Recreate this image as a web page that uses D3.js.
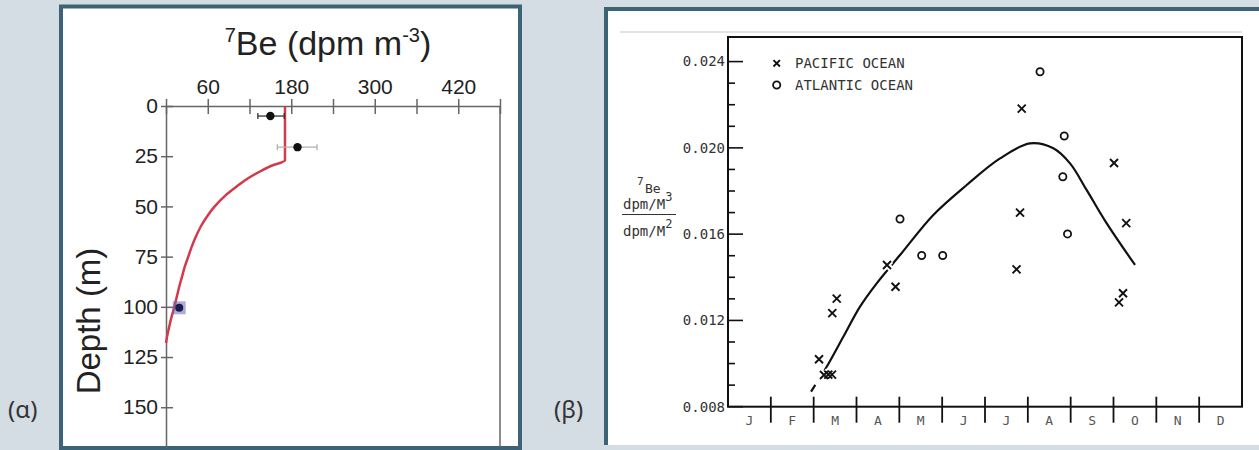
<!DOCTYPE html>
<html>
<head>
<meta charset="utf-8">
<script src="https://cdn.jsdelivr.net/npm/d3@7"></script>
<style>
html, body { margin: 0; padding: 0; background: #d4dde3; }
svg { display: block; }
</style>
</head>
<body>
<svg id="chart" width="1259" height="450"></svg>
<script>
// ---- panel (a): 7Be depth profile ----
const depthTicks = [0, 25, 50, 75, 100, 125, 150];
const beTicks = [0, 60, 120, 180, 240, 300, 360, 420, 480];
const beTickLabels = [60, 180, 300, 420];
const obsBe = [150, 189];
const obsDepth = [5, 20.5];
const obsErrLo = [132, 160];
const obsErrHi = [170, 217];
const deepBe = [19];
const deepDepth = [100.5];
const modelBe = [171, 171, 150, 133, 118, 102, 84, 70, 59, 50, 43, 37, 32, 27, 23, 19, 15.5, 12, 8, 4.5, 2, 0];
const modelDepth = [0, 27, 30, 33, 36, 40, 45, 50, 55, 60, 65, 70, 75, 80, 85, 90, 95, 100, 105, 110, 114, 118];

// ---- panel (b): 7Be ratio through the year ----
const months = ["J", "F", "M", "A", "M", "J", "J", "A", "S", "O", "N", "D"];
const ratioMajor = [0.008, 0.012, 0.016, 0.020, 0.024];
const ratioMinor = [0.009, 0.010, 0.011, 0.013, 0.014, 0.015, 0.017, 0.018, 0.019, 0.021, 0.022, 0.023];
const pacificMonth = [2.125, 2.241, 2.342, 2.428, 2.435, 2.538, 3.712, 3.911, 6.857, 6.818, 6.736, 9.012, 9.297, 9.222, 9.129];
const pacificRatio = [0.0102, 0.00947, 0.00949, 0.00949, 0.01234, 0.01301, 0.01457, 0.01356, 0.02182, 0.0170, 0.01437, 0.0193, 0.01651, 0.01326, 0.01284];
const atlanticMonth = [4.016, 4.522, 5.013, 7.285, 7.85, 7.817, 7.927];
const atlanticRatio = [0.0167, 0.01501, 0.01501, 0.02353, 0.02055, 0.01866, 0.01601];
const fitMonth = [1.938, 2.304, 2.692, 3.082, 3.472, 4.016, 4.793, 5.573, 6.351, 7.051, 7.595, 7.985, 8.375, 8.842, 9.503];
const fitRatio = [0.0087, 0.00985, 0.01124, 0.01264, 0.01372, 0.01503, 0.01689, 0.01828, 0.01951, 0.02021, 0.01998, 0.01928, 0.01804, 0.0165, 0.01457];

const svg = d3.select("#chart");
const frameColor = "#3d6377";
const sans = "Liberation Sans, Arial, sans-serif";
const mono = "DejaVu Sans Mono, monospace";

// panel frames
svg.append("rect")
    .attr("x", 61).attr("y", 6.5).attr("width", 459).attr("height", 441.5)
    .attr("fill", "#fff").attr("stroke", frameColor).attr("stroke-width", 4);
svg.append("rect")
    .attr("x", 606).attr("y", 9).attr("width", 660).attr("height", 436)
    .attr("fill", "#fff");
svg.append("path")
    .attr("d", "M606,445V9H1262")
    .attr("fill", "none").attr("stroke", frameColor).attr("stroke-width", 4);

// panel letters
svg.append("text").attr("x", 8).attr("y", 418)
    .attr("font-family", "Noto Sans, sans-serif").attr("font-size", 24).attr("fill", "#333")
    .text("(α)");
svg.append("text").attr("x", 554).attr("y", 418)
    .attr("font-family", "Noto Sans, sans-serif").attr("font-size", 24).attr("fill", "#333")
    .text("(β)");

// ================= panel (a) =================
const xA = d3.scaleLinear().domain([0, 480]).range([166, 500]);
const yA = d3.scaleLinear().domain([0, 170]).range([106, 447.4]);
const gA = svg.append("g");

gA.append("g")
    .attr("transform", `translate(0,${yA(0)})`)
    .call(d3.axisTop(xA).tickValues(beTicks).tickSize(7).tickSizeOuter(0).tickPadding(5)
        .tickFormat(d => beTickLabels.includes(d) ? d : ""))
    .call(g => g.attr("font-family", sans).attr("font-size", 21))
    .call(g => g.select(".domain").attr("stroke", "#666").attr("stroke-width", 1.5))
    .call(g => g.selectAll(".tick line").attr("y1", 8).attr("stroke", "#666").attr("stroke-width", 1.5))
    .call(g => g.selectAll(".tick text").attr("fill", "#222"));

gA.append("g")
    .attr("transform", `translate(${xA(0)},0)`)
    .call(d3.axisLeft(yA).tickValues(depthTicks).tickSize(5).tickSizeOuter(0).tickPadding(3))
    .call(g => g.attr("font-family", sans).attr("font-size", 21))
    .call(g => g.select(".domain").attr("stroke", "#666").attr("stroke-width", 1.5))
    .call(g => g.selectAll(".tick line").attr("x1", 7).attr("stroke", "#666").attr("stroke-width", 1.5))
    .call(g => g.selectAll(".tick text").attr("fill", "#222"));

gA.append("line")
    .attr("x1", xA(480)).attr("x2", xA(480)).attr("y1", yA(0)).attr("y2", yA(170))
    .attr("stroke", "#666").attr("stroke-width", 1.5);

// model profile
const profile = modelBe.map((v, i) => ({ v, d: modelDepth[i] }));
gA.append("path")
    .datum(profile)
    .attr("d", d3.line().x(p => xA(p.v)).y(p => yA(p.d)).curve(d3.curveMonotoneY))
    .attr("fill", "none").attr("stroke", "#d23a4a").attr("stroke-width", 2.5);

// observations with error bars
const obs = obsBe.map((v, i) => ({ v, d: obsDepth[i], lo: obsErrLo[i], hi: obsErrHi[i], i }));
const errColor = i => i === 0 ? "#333" : "#b0b0b0";
const eb = gA.selectAll(".eb").data(obs).join("g").attr("class", "eb");
eb.append("line")
    .attr("x1", p => xA(p.lo)).attr("x2", p => xA(p.hi))
    .attr("y1", p => yA(p.d)).attr("y2", p => yA(p.d))
    .attr("stroke", p => errColor(p.i)).attr("stroke-width", 1.3);
eb.selectAll(".cap").data(p => [p.lo, p.hi].map(x => ({ x, d: p.d, i: p.i }))).join("line")
    .attr("x1", c => xA(c.x)).attr("x2", c => xA(c.x))
    .attr("y1", c => yA(c.d) - 3).attr("y2", c => yA(c.d) + 3)
    .attr("stroke", c => errColor(c.i)).attr("stroke-width", 1.3);
eb.append("circle")
    .attr("cx", p => xA(p.v)).attr("cy", p => yA(p.d)).attr("r", 4.2)
    .attr("fill", "#111");

// deep sample
const deep = deepBe.map((v, i) => ({ v, d: deepDepth[i] }));
gA.selectAll(".deepsq").data(deep).join("rect")
    .attr("x", p => xA(p.v) - 6.5).attr("y", p => yA(p.d) - 6.5)
    .attr("width", 13).attr("height", 13)
    .attr("fill", "#6a6ab8").attr("opacity", 0.55);
gA.selectAll(".deepdot").data(deep).join("circle")
    .attr("cx", p => xA(p.v)).attr("cy", p => yA(p.d)).attr("r", 4)
    .attr("fill", "#1b1b4d");

// titles
const title = gA.append("text")
    .attr("x", 328).attr("y", 55).attr("text-anchor", "middle")
    .attr("font-family", sans).attr("font-size", 34).attr("fill", "#222");
title.append("tspan").attr("font-size", 20).attr("dy", -13).text("7");
title.append("tspan").attr("dy", 13).text("Be (dpm m");
title.append("tspan").attr("font-size", 20).attr("dy", -13).text("-3");
title.append("tspan").attr("dy", 13).text(")");

gA.append("text")
    .attr("transform", "translate(100,321) rotate(-90)")
    .attr("text-anchor", "middle")
    .attr("font-family", sans).attr("font-size", 33).attr("fill", "#222")
    .text("Depth (m)");

// ================= panel (b) =================
const xB = d3.scaleLinear().domain([0, 12]).range([728, 1242]);
const yB = d3.scaleLinear().domain([0.008, 0.02514]).range([406.7, 37]);
const gB = svg.append("g");

// faint scan edge above the plot
gB.append("line")
    .attr("x1", 620).attr("x2", 1242).attr("y1", 32).attr("y2", 32)
    .attr("stroke", "#e3e3e3").attr("stroke-width", 2);

// minor and major ticks on the left axis, pointing inward
gB.selectAll(".minor").data(ratioMinor).join("line")
    .attr("x1", xB(0)).attr("x2", xB(0) + 7)
    .attr("y1", d => yB(d)).attr("y2", d => yB(d))
    .attr("stroke", "#111").attr("stroke-width", 1.6);
gB.selectAll(".major").data(ratioMajor).join("line")
    .attr("x1", xB(0)).attr("x2", xB(0) + 15)
    .attr("y1", d => yB(d)).attr("y2", d => yB(d))
    .attr("stroke", "#111").attr("stroke-width", 1.6);
gB.selectAll(".ylab").data(ratioMajor).join("text")
    .attr("x", xB(0) - 3).attr("y", d => yB(d)).attr("dy", "0.35em")
    .attr("text-anchor", "end")
    .attr("font-family", mono).attr("font-size", 14).attr("fill", "#333")
    .text(d => d3.format(".3f")(d));

// month dividers and labels
gB.selectAll(".mtick").data(d3.range(1, 12)).join("line")
    .attr("x1", d => xB(d)).attr("x2", d => xB(d))
    .attr("y1", yB(0.008) - 10).attr("y2", yB(0.008) + 16)
    .attr("stroke", "#111").attr("stroke-width", 1.8);
gB.selectAll(".mlab").data(months).join("text")
    .attr("x", (d, i) => xB(i + 0.5)).attr("y", 425)
    .attr("text-anchor", "middle")
    .attr("font-family", mono).attr("font-size", 13).attr("fill", "#555")
    .text(d => d);

// plot box
gB.append("rect")
    .attr("x", xB(0)).attr("y", yB(0.02514))
    .attr("width", xB(12) - xB(0)).attr("height", yB(0.008) - yB(0.02514))
    .attr("fill", "none").attr("stroke", "#111").attr("stroke-width", 2);

// fitted seasonal curve, dashed start
const fit = fitMonth.map((m, i) => ({ m, r: fitRatio[i] }));
const fitPath = gB.append("path")
    .datum(fit)
    .attr("d", d3.line().x(p => xB(p.m)).y(p => yB(p.r)).curve(d3.curveCatmullRom.alpha(0.5)))
    .attr("fill", "none").attr("stroke", "#111").attr("stroke-width", 2.2);
const fitLen = fitPath.node().getTotalLength();
fitPath.attr("stroke-dasharray", `8,15,${fitLen}`);

// symbols
const timesSymbol = {
    draw(ctx, size) {
        const r = Math.sqrt(size) / 2;
        ctx.moveTo(-r, -r); ctx.lineTo(r, r);
        ctx.moveTo(-r, r); ctx.lineTo(r, -r);
    }
};
const xMark = d3.symbol().type(timesSymbol).size(64);

const pac = pacificMonth.map((m, i) => ({ m, r: pacificRatio[i] }));
const atl = atlanticMonth.map((m, i) => ({ m, r: atlanticRatio[i] }));

// white halo makes the gaps where markers cross the curve
gB.selectAll(".halo").data(pac).join("path")
    .attr("transform", p => `translate(${xB(p.m)},${yB(p.r)})`)
    .attr("d", xMark)
    .attr("fill", "none").attr("stroke", "#fff").attr("stroke-width", 6);
gB.selectAll(".pac").data(pac).join("path")
    .attr("transform", p => `translate(${xB(p.m)},${yB(p.r)})`)
    .attr("d", xMark)
    .attr("fill", "none").attr("stroke", "#111").attr("stroke-width", 1.9);
gB.selectAll(".atl").data(atl).join("circle")
    .attr("cx", p => xB(p.m)).attr("cy", p => yB(p.r)).attr("r", 3.6)
    .attr("fill", "#fff").attr("stroke", "#111").attr("stroke-width", 1.8);

// legend
const legend = [
    { label: "PACIFIC OCEAN", y: 63.3, kind: "x" },
    { label: "ATLANTIC OCEAN", y: 85, kind: "o" }
];
legend.forEach(l => {
    if (l.kind === "x") {
        gB.append("path")
            .attr("transform", `translate(776.7,${l.y})`)
            .attr("d", d3.symbol().type(timesSymbol).size(42))
            .attr("fill", "none").attr("stroke", "#111").attr("stroke-width", 1.9);
    } else {
        gB.append("circle").attr("cx", 776.7).attr("cy", l.y).attr("r", 3.6)
            .attr("fill", "none").attr("stroke", "#111").attr("stroke-width", 1.8);
    }
    gB.append("text")
        .attr("x", 795).attr("y", l.y).attr("dy", "0.36em")
        .attr("font-family", mono).attr("font-size", 14).attr("fill", "#333")
        .text(l.label);
});

// y axis label: 7Be over a dpm/M3 / dpm/M2 fraction
const yl = gB.append("g").attr("font-family", mono).attr("fill", "#333");
yl.append("text").attr("x", 637).attr("y", 185).attr("font-size", 11).text("7");
yl.append("text").attr("x", 645).attr("y", 193).attr("font-size", 13).text("Be");
const num = yl.append("text").attr("x", 623).attr("y", 209).attr("font-size", 14);
num.append("tspan").text("dpm/M");
num.append("tspan").attr("dy", -8).attr("font-size", 12).text("3");
yl.append("line")
    .attr("x1", 622).attr("x2", 676).attr("y1", 214.5).attr("y2", 214.5)
    .attr("stroke", "#333").attr("stroke-width", 1.2);
const den = yl.append("text").attr("x", 623).attr("y", 236).attr("font-size", 14);
den.append("tspan").text("dpm/M");
den.append("tspan").attr("dy", -8).attr("font-size", 12).text("2");
</script>
</body>
</html>
